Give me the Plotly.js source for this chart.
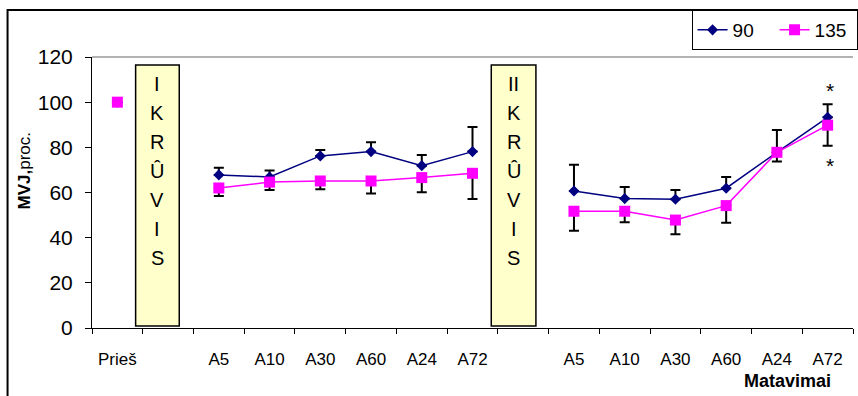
<!DOCTYPE html>
<html>
<head>
<meta charset="utf-8">
<script src="https://cdn.plot.ly/plotly-3.0.1.min.js"></script>
<style>html,body{margin:0;padding:0;background:#fff;}#chart{width:858px;height:396px;}</style>
</head>
<body>
<div id="chart"></div>
<script>
var categories = ["Prieš", "", "A5", "A10", "A30", "A60", "A24", "A72", "", "A5", "A10", "A30", "A60", "A24", "A72"];
var series90 = [100, null, 67.8, 66.9, 76.2, 78.1, 71.9, 78.1, null, 60.7, 57.3, 57.0, 61.9, 77.8, 93.3];
var err90Up = [0, null, 3.2, 2.8, 2.6, 4.1, 4.7, 10.9, null, 11.6, 5.1, 4.1, 5.0, 9.9, 5.8];
var series135 = [100, null, 62.0, 64.6, 65.1, 65.1, 66.6, 68.5, null, 51.7, 51.7, 47.8, 54.2, 77.8, 89.8];
var err135Down = [0, null, 3.5, 3.5, 3.7, 5.5, 6.5, 11.4, null, 8.6, 4.9, 6.3, 7.6, 4.1, 9.1];
var seriesNames = ["90", "135"];
var box1Letters = ["I", "K", "R", "Û", "V", "I", "S"];
var box2Letters = ["II", "K", "R", "Û", "V", "I", "S"];
var yTitleBold = "MVJ,";
var yTitleRest = "proc.";
var xTitle = "Matavimai";
var markText = "*";

var FONT = "Liberation Sans, Arial, sans-serif";
var idx = categories.map(function (c, i) { return i; });
var zeros = idx.map(function () { return 0; });

var t90 = {
  x: idx, y: series90, name: seriesNames[0], type: "scatter", mode: "lines+markers",
  line: {color: "#000080", width: 1.5},
  marker: {symbol: "diamond", size: 8.5, color: "#000080"},
  error_y: {type: "data", symmetric: false, array: err90Up, arrayminus: zeros, color: "#000", thickness: 2, width: 5},
  connectgaps: false, hoverinfo: "skip"
};
var t135 = {
  x: idx, y: series135, name: seriesNames[1], type: "scatter", mode: "lines+markers",
  line: {color: "#FF00FF", width: 1.5},
  marker: {symbol: "square", size: 11, color: "#FF00FF"},
  error_y: {type: "data", symmetric: false, array: zeros, arrayminus: err135Down, color: "#000", thickness: 2, width: 5},
  connectgaps: false, hoverinfo: "skip"
};

var plotTopPx = 57, plotBottomPx = 328, plotLeftPx = 92, W = 858, H = 396;
var plotH = plotBottomPx - plotTopPx, plotW = W - plotLeftPx;

var shapes = [
  {type: "rect", xref: "paper", yref: "paper", x0: (7 - plotLeftPx) / plotW, x1: 1.1, y0: -0.6, y1: 1 + (plotTopPx - 10) / plotH,
   line: {color: "#000", width: 2}, fillcolor: "rgba(0,0,0,0)", layer: "below"},
  {type: "line", xref: "paper", yref: "paper", x0: 0, x1: 1, y0: 1, y1: 1, line: {color: "#999", width: 1.5}},
  {type: "rect", xref: "x", yref: "y", x0: 0.36, x1: 1.22, y0: 0.9, y1: 116.5, fillcolor: "#FFFFCC", line: {color: "#000", width: 1.5}, layer: "below"},
  {type: "rect", xref: "x", yref: "y", x0: 7.37, x1: 8.25, y0: 0.9, y1: 116.5, fillcolor: "#FFFFCC", line: {color: "#000", width: 1.5}, layer: "below"}
];

var annotations = [];
function addLetters(letters, xc) {
  var n = letters.length;
  letters.forEach(function (L, i) {
    annotations.push({x: xc, y: 69.7, xref: "x", yref: "y", text: L, showarrow: false,
      xanchor: "center", yanchor: "middle",
      yshift: ((n - 1) / 2 - i) * 29, font: {family: FONT, size: 20, color: "#000"}});
  });
}
addLetters(box1Letters, 0.79);
addLetters(box2Letters, 7.81);

annotations.push({xref: "paper", yref: "paper", x: (24 - plotLeftPx) / plotW, y: (plotBottomPx - 171) / plotH,
  xanchor: "center", yanchor: "middle",
  text: "<b>" + yTitleBold + "</b>" + yTitleRest, textangle: -90, showarrow: false,
  font: {family: FONT, size: 17, color: "#000"}});
annotations.push({xref: "paper", yref: "paper", x: (792 - plotLeftPx) / plotW, y: (plotBottomPx - 381) / plotH,
  xanchor: "center", yanchor: "middle",
  text: "<b>" + xTitle + "</b>", showarrow: false, font: {family: FONT, size: 18, color: "#000"}});
annotations.push({x: 14, y: 105, xref: "x", yref: "y", text: markText, showarrow: false, xshift: 2,
  xanchor: "center", yanchor: "middle", font: {family: FONT, size: 21, color: "#000"}});
annotations.push({x: 14, y: 72, xref: "x", yref: "y", text: markText, showarrow: false, xshift: 2,
  xanchor: "center", yanchor: "middle", font: {family: FONT, size: 21, color: "#000"}});

var layout = {
  width: W, height: H,
  margin: {l: plotLeftPx, r: 0, t: plotTopPx, b: H - plotBottomPx, pad: 0},
  paper_bgcolor: "#fff", plot_bgcolor: "#fff",
  font: {family: FONT, color: "#000"},
  showlegend: true,
  legend: {orientation: "h", x: 1.006, xanchor: "right", y: 1 + (plotTopPx - 10) / plotH, yanchor: "top",
    entrywidth: 37, entrywidthmode: "pixels",
    bordercolor: "#000", borderwidth: 1, bgcolor: "#fff", font: {family: FONT, size: 19, color: "#000"}},
  xaxis: {range: [-0.5, 14.5], tickmode: "array", tickvals: idx, ticktext: categories, ticks: "",
    showgrid: false, zeroline: false, showline: true, linecolor: "#000", linewidth: 1,
    tickfont: {family: FONT, size: 17, color: "#000"}, ticklabelstandoff: 16,
    minor: {tickmode: "linear", tick0: -0.5, dtick: 1, ticks: "outside", ticklen: 5, tickcolor: "#000", tickwidth: 1, showgrid: false},
    fixedrange: true},
  yaxis: {range: [0, 120], dtick: 20, tick0: 0, ticks: "outside", ticklen: 6, tickcolor: "#000",
    showgrid: false, zeroline: false, showline: true, linecolor: "#000", linewidth: 1,
    tickfont: {family: FONT, size: 21, color: "#000"}, ticklabelstandoff: 8, fixedrange: true},
  shapes: shapes,
  annotations: annotations
};

Plotly.newPlot("chart", [t90, t135], layout, {staticPlot: true, displayModeBar: false});
</script>
</body>
</html>
